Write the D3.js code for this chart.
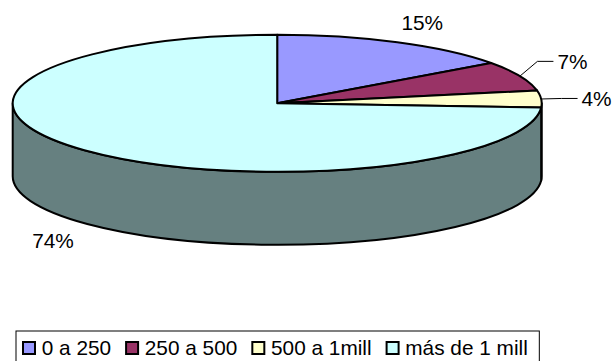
<!DOCTYPE html>
<html><head><meta charset="utf-8">
<script src="https://cdn.jsdelivr.net/npm/d3@7"></script>
<style>html,body{margin:0;padding:0;background:#fff;}svg{display:block;}</style>
</head><body>
<script>
const categories = ["0 a 250", "250 a 500", "500 a 1mill", "más de 1 mill"];
const values = [15, 7, 4, 74];
const labels = ["15%", "7%", "4%", "74%"];
const colors = ["#9999FF", "#993366", "#FFFFCC", "#CCFFFF"];
const hasLeader = [false, true, true, false];

const W = 613, H = 361;
const cx = 277.2, cy = 103.3, rx = 264.5, ry = 68.5, depth = 73;
const font = "'Liberation Sans', Arial, sans-serif";
const fs = 20.8;

const svg = d3.select("body").append("svg").attr("width", W).attr("height", H);

const pie = d3.pie().sort(null).value(d => d).startAngle(0).endAngle(2 * Math.PI);
const arcs = pie(values);

const px = a => cx + rx * Math.sin(a);
const py = a => cy - ry * Math.cos(a);

function topPath(a0, a1) {
  const large = (a1 - a0) > Math.PI ? 1 : 0;
  return `M${cx},${cy}L${px(a0)},${py(a0)}A${rx},${ry} 0 ${large} 1 ${px(a1)},${py(a1)}Z`;
}
function sidePath(a0, a1) {
  const large = (a1 - a0) > Math.PI ? 1 : 0;
  return `M${px(a0)},${py(a0)}A${rx},${ry} 0 ${large} 1 ${px(a1)},${py(a1)}` +
    `L${px(a1)},${py(a1) + depth}A${rx},${ry} 0 ${large} 0 ${px(a0)},${py(a0) + depth}Z`;
}
const shade = c => { const r = d3.rgb(c); return d3.rgb(r.r * 0.5, r.g * 0.5, r.b * 0.5).formatHex(); };

// sides (front half only: angles between PI/2 and 3PI/2)
const gSide = svg.append("g");
arcs.forEach((d, i) => {
  const a0 = Math.max(d.startAngle, Math.PI / 2), a1 = Math.min(d.endAngle, 3 * Math.PI / 2);
  if (a1 > a0) {
    gSide.append("path").attr("d", sidePath(a0, a1))
      .attr("fill", shade(colors[i])).attr("stroke", "#000").attr("stroke-width", 2)
      .attr("stroke-linejoin", "round");
  }
});
// tops
const gTop = svg.append("g");
arcs.forEach((d, i) => {
  gTop.append("path").attr("d", topPath(d.startAngle, d.endAngle))
    .attr("fill", colors[i]).attr("stroke", "#000").attr("stroke-width", 2)
    .attr("stroke-linejoin", "round");
});

// labels
const LRx = 313, LRy = 93;
const nudge = [[3, 2], [8, -5], [7, 1], [4, 1]];
const gLab = svg.append("g");
arcs.forEach((d, i) => {
  const m = (d.startAngle + d.endAngle) / 2;
  let lx = cx + LRx * Math.sin(m) + nudge[i][0];
  let ly = cy - LRy * Math.cos(m) + (Math.cos(m) < 0 ? depth : 0) + nudge[i][1];
  const t = gLab.append("text").attr("x", lx).attr("y", ly).attr("dy", "0.35em")
    .attr("text-anchor", "middle").attr("font-family", font).attr("font-size", fs)
    .attr("fill", "#000").text(labels[i]);
  if (hasLeader[i]) {
    const w = t.node().getComputedTextLength();
    const endX = lx - w / 2 - 4;
    const elbowX = endX - 16;
    const p0 = [px(m), py(m)];
    gLab.append("path")
      .attr("d", `M${p0[0]},${p0[1]}L${Math.max(elbowX, p0[0] + 3)},${ly}L${endX},${ly}`)
      .attr("fill", "none").attr("stroke", "#000").attr("stroke-width", 1);
  }
});

// legend
const gLeg = svg.append("g");
const box = gLeg.append("rect").attr("x", 16).attr("y", 331).attr("height", 40)
  .attr("fill", "#fff").attr("stroke", "#000").attr("stroke-width", 1);
let x = 23;
categories.forEach((c, i) => {
  gLeg.append("rect").attr("x", x).attr("y", 342).attr("width", 12).attr("height", 12)
    .attr("fill", colors[i]).attr("stroke", "#000").attr("stroke-width", 2);
  const t = gLeg.append("text").attr("x", x + 18.7).attr("y", 355)
    .attr("font-family", font).attr("font-size", fs).attr("fill", "#000").text(c);
  const end = x + 18.7 + t.node().getComputedTextLength();
  if (i === categories.length - 1) box.attr("width", end + 11.5 - 16);
  x = end + 15;
});
</script>
</body></html>
